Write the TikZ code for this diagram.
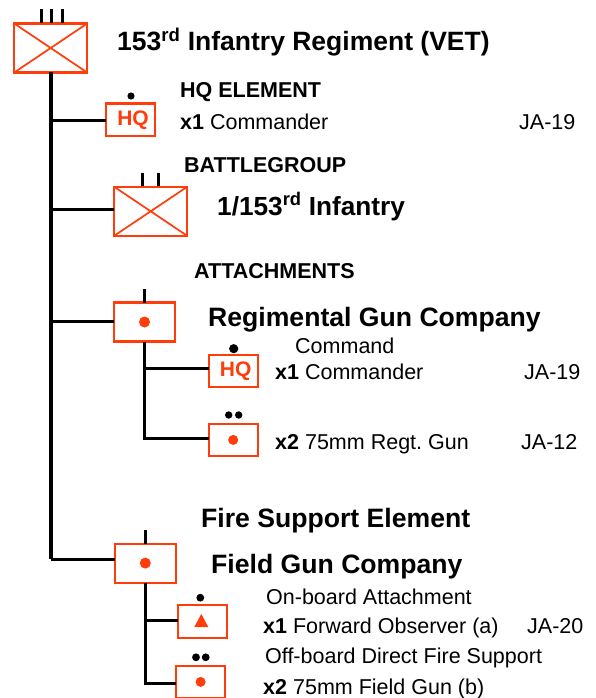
\documentclass[tikz,border=0pt]{standalone}
\usepackage{fontspec}
\setmainfont{Liberation Sans}
\frenchspacing
\usetikzlibrary{positioning}
\definecolor{unitred}{RGB}{255,60,10}
\tikzset{
  unit/.style={draw=unitred,line width=2.2pt,fill=white,inner sep=0pt,outer sep=0pt,anchor=north west},
  bigunit/.style={unit,minimum width=73pt,minimum height=49pt},
  midunit/.style={unit,minimum width=60.6pt,minimum height=39pt},
  smallunit/.style={unit,minimum width=49.2pt,minimum height=32.6pt},
  trunk/.style={line width=3.6pt},
  branch/.style={line width=3pt},
  tick/.style={line width=2.5pt},
  txt/.style={anchor=base west,inner sep=0pt},
  hugetxt/.style={txt,font=\fontsize{26.5}{30}\selectfont\bfseries},
  headtxt/.style={txt,font=\fontsize{26.6}{30}\selectfont\bfseries},
  subtxt/.style={txt,font=\fontsize{21.5}{24}\selectfont\bfseries},
  plaintxt/.style={txt,font=\fontsize{21.5}{24}\selectfont},
  hqtxt/.style={font=\fontsize{21}{24}\selectfont\bfseries,text=unitred},
}
\newcommand{\unitcross}[1]{\draw[unitred,line width=1.7pt] (#1.north west) -- (#1.south east) (#1.north east) -- (#1.south west);}
\newcommand{\hqmark}{\hspace*{5pt}\raisebox{-3pt}{HQ}}
\begin{document}
\begin{tikzpicture}[x=1pt,y=-1pt]
    \useasboundingbox (0,0) rectangle (596,698);

    % unit boxes
    \node[bigunit] (regt) at (14.2,23.5) {};
    \node[smallunit,hqtxt] (hqa) at (105.9,103.6) {\hqmark};
    \node[bigunit] (bgroup) at (114.2,186.8) {};
    \node[midunit] (gunco) at (114.2,302.5) {};
    \node[smallunit,hqtxt] (hqb) at (208.6,354.6) {\hqmark};
    \node[smallunit] (regun) at (208.6,423.6) {};
    \node[midunit] (fieldco) at (115,543.6) {};
    \node[smallunit] (fobs) at (177.6,605) {};
    \node[smallunit] (fgun) at (176,665.6) {};
    \unitcross{regt}
    \unitcross{bgroup}

    % connectors
    \coordinate (fieldjoin) at ([yshift=4pt]fieldco.west);
    \coordinate (trunkend) at (regt.south |- fieldjoin);
    \draw[trunk] (regt.south) -- (trunkend);
    \draw[branch] ([yshift=-1.1pt]hqa.west) -- ++(-55,0);
    \draw[branch] ([yshift=2.3pt]bgroup.west) -- ++(-63.5,0);
    \draw[branch] ([yshift=0.7pt]gunco.west) -- ++(-63.5,0);
    \draw[branch] (trunkend) -- (fieldjoin);
    \draw[branch] (gunco.south) |- ([yshift=2.9pt]hqb.west);
    \draw[branch] (gunco.south) |- ([yshift=1.6pt]regun.west);
    \draw[branch] (fieldco.south) |- ([yshift=1pt]fobs.west);
    \draw[branch] (fieldco.south) |- ([yshift=-1.4pt]fgun.west);

    % size marks
    \draw[tick] (41.7,9.3) -- (41.7,23);
    \draw[tick] (51.7,9.3) -- (51.7,23);
    \draw[tick] (62.3,9.3) -- (62.3,23);
    \draw[tick] (142.7,173) -- (142.7,186);
    \draw[tick] (158.7,173) -- (158.7,186);
    \draw[tick] (gunco.north) -- ++(0,-13.5);
    \draw[tick] (fieldco.north) -- ++(0,-14);
    \fill (131,96) circle (3.6);
    \fill (233.7,348.7) circle (4.6);
    \fill (228.7,415) circle (3.7);
    \fill (238.7,415) circle (3.7);
    \fill (200.3,597.7) circle (3.9);
    \fill (196,657.3) circle (3.9);
    \fill (205.7,657.3) circle (3.9);

    % inner symbols
    \fill[unitred] (gunco.center) circle (5.5);
    \fill[unitred] (regun.center) circle (5);
    \fill[unitred] (fieldco.center) circle (5.5);
    \fill[unitred] (fgun.center) circle (5);
    \fill[unitred] (201.3,614) -- (208.3,627) -- (194.3,627) -- cycle;

    % labels
    \node[hugetxt] (title) at (117,51) {153\textsuperscript{rd} Infantry Regiment (VET)};
    \node[subtxt] (hqhead) at (180,98) {HQ ELEMENT};
    \node[plaintxt] (hqline) at (180,129) {\textbf{x1} Commander};
    \node[plaintxt] (hqcode) at (519,129) {JA-19};
    \node[subtxt] (bghead) at (184,172) {BATTLEGROUP};
    \node[txt,font=\fontsize{26.2}{30}\selectfont\bfseries] (bgname) at (217,215) {1/153\textsuperscript{rd} Infantry};
    \node[subtxt] (atthead) at (194,278) {ATTACHMENTS};
    \node[headtxt] (gunname) at (208,326) {Regimental Gun Company};
    \node[plaintxt] (cmdhead) at (295,353) {Command};
    \node[plaintxt] (cmdline) at (275,379) {\textbf{x1} Commander};
    \node[plaintxt] (cmdcode) at (524,379) {JA-19};
    \node[plaintxt] (gunline) at (275,449) {\textbf{x2} 75mm Regt. Gun};
    \node[plaintxt] (guncode) at (521,449) {JA-12};
    \node[headtxt] (firehead) at (201,527) {Fire Support Element};
    \node[headtxt] (fieldname) at (211,573) {Field Gun Company};
    \node[plaintxt] (onhead) at (266,604) {On-board Attachment};
    \node[plaintxt] (foline) at (263,633) {\textbf{x1} Forward Observer (a)};
    \node[plaintxt] (focode) at (527,633) {JA-20};
    \node[plaintxt] (offhead) at (265,663) {Off-board Direct Fire Support};
    \node[plaintxt] (fgline) at (263,694) {\textbf{x2} 75mm Field Gun (b)};
\end{tikzpicture}
\end{document}
